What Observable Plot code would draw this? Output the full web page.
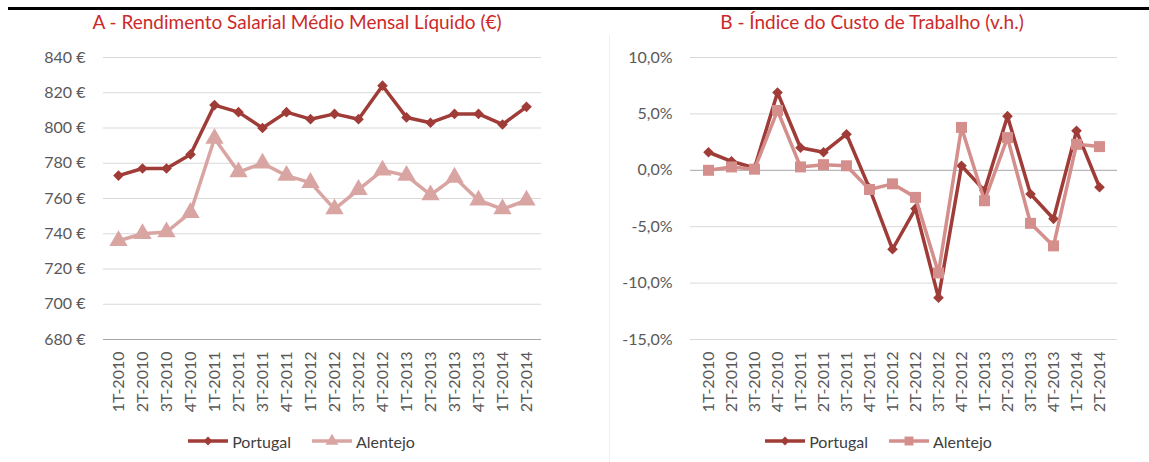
<!DOCTYPE html>
<html>
<head>
<meta charset="utf-8">
<script src="https://cdn.jsdelivr.net/npm/d3@7"></script>
<script src="https://cdn.jsdelivr.net/npm/@observablehq/plot@0.6"></script>
<style>
  body { margin: 0; background: #fff; font-family: Lato, "Open Sans", sans-serif; }
  #wrap { position: relative; width: 1149px; height: 462px; overflow: hidden; background: #fff; }
  .topline { position: absolute; left: 8px; top: 7px; width: 1141px; height: 3px; background: #000; }
  .divider { position: absolute; left: 609px; top: 35px; width: 1px; height: 427px; background: #efefef; }
  .title { position: absolute; top: 10px; color: #cc2a2a; font-size: 19px; text-align: center; line-height: 24px; }
  .panel { position: absolute; top: 40px; }
  .legend { position: absolute; top: 431px; height: 20px; display: flex; justify-content: center; align-items: center; gap: 20px; font-size: 16px; color: #404040; }
  .legend .item { display: flex; align-items: center; gap: 3px; }
  .legend svg { display: block; }
</style>
</head>
<body>
<div id="wrap">
  <div class="topline"></div>
  <div class="divider"></div>
  <div class="title" id="titleA" style="left:0;width:594px;"></div>
  <div class="title" id="titleB" style="left:609px;width:526px;"></div>
  <div class="panel" id="panelA" style="left:0;"></div>
  <div class="panel" id="panelB" style="left:609px;"></div>
  <div class="legend" id="legendA" style="left:0;width:602px;"></div>
  <div class="legend" id="legendB" style="left:609px;width:538px;"></div>
</div>
<script>
// ---------- data ----------
const quarters = ["1T-2010","2T-2010","3T-2010","4T-2010","1T-2011","2T-2011","3T-2011","4T-2011",
  "1T-2012","2T-2012","3T-2012","4T-2012","1T-2013","2T-2013","3T-2013","4T-2013","1T-2014","2T-2014"];

const seriesNames = ["Portugal", "Alentejo"];

// A - Rendimento Salarial Médio Mensal Líquido (€)
const salarioPortugal = [773, 777, 777, 785, 813, 809, 800, 809, 805, 808, 805, 824, 806, 803, 808, 808, 802, 812];
const salarioAlentejo = [736, 740, 741, 752, 794, 775, 780, 773, 769, 754, 765, 776, 773, 762, 772, 759, 754, 759];
const salarioTicks = [680, 700, 720, 740, 760, 780, 800, 820, 840];

// B - Índice do Custo de Trabalho (v.h., %)
const ictPortugal = [1.6, 0.8, 0.2, 6.9, 2.0, 1.6, 3.2, -1.6, -7.0, -3.4, -11.3, 0.4, -1.8, 4.8, -2.1, -4.3, 3.5, -1.5];
const ictAlentejo = [0.0, 0.3, 0.1, 5.3, 0.3, 0.5, 0.4, -1.7, -1.2, -2.4, -9.1, 3.8, -2.7, 2.9, -4.7, -6.7, 2.3, 2.1];
const ictTicks = [-15, -10, -5, 0, 5, 10];

const titleA = "A - Rendimento Salarial Médio Mensal Líquido (€)";
const titleB = "B - Índice do Custo de Trabalho (v.h.)";

// ---------- styles ----------
const cPortugal = "#a03c38";
const cAlentejoA = "#d9a5a3";
const cAlentejoB = "#d48e8c";
const gridColor = "#d9d9d9";
const axisColor = "#a6a6a6";
const textColor = "#595959";
const fs = 16;

const rows = (vals, name) => quarters.map((q, i) => ({q, v: vals[i], s: name}));

document.getElementById("titleA").textContent = titleA;
document.getElementById("titleB").textContent = titleB;

const common = {
  height: 380,
  marginTop: 17,
  marginBottom: 81,
  style: {fontFamily: "Lato, 'Open Sans', sans-serif", fontSize: fs + "px", color: textColor, background: "transparent", overflow: "visible"}
};

// ---------- Panel A ----------
const eur = d => `${d} €`;
const pA = Plot.plot({
  ...common,
  width: 609,
  marginLeft: 103,
  marginRight: 68,
  x: {type: "point", domain: quarters, padding: 0.5, axis: null},
  y: {domain: [680, 840], axis: null},
  marks: [
    Plot.ruleY(salarioTicks.filter(d => d !== 680), {stroke: gridColor, strokeWidth: 1}),
    Plot.ruleY([680], {stroke: axisColor, strokeWidth: 1}),
    Plot.axisY(salarioTicks, {label: null, tickSize: 0, tickPadding: 18, tickFormat: eur, fontSize: fs, fill: textColor}),
    Plot.axisX({label: null, tickSize: 0, tickPadding: 12, tickRotate: -90, fontSize: fs, fill: textColor}),
    Plot.line(rows(salarioPortugal, "Portugal"), {x: "q", y: "v", stroke: cPortugal, strokeWidth: 3.5}),
    Plot.dot(rows(salarioPortugal, "Portugal"), {x: "q", y: "v", symbol: "diamond2", r: 4.8, fill: cPortugal, stroke: "none"}),
    Plot.line(rows(salarioAlentejo, "Alentejo"), {x: "q", y: "v", stroke: cAlentejoA, strokeWidth: 3.5}),
    Plot.dot(rows(salarioAlentejo, "Alentejo"), {x: "q", y: "v", symbol: "triangle", r: 6.8, fill: cAlentejoA, stroke: "none"})
  ]
});
document.getElementById("panelA").append(pA);

// ---------- Panel B ----------
const pct = d => d.toFixed(1).replace(".", ",") + "%";
const pB = Plot.plot({
  ...common,
  width: 540,
  marginLeft: 81,
  marginRight: 32,
  x: {type: "point", domain: quarters, padding: 0.5, axis: null},
  y: {domain: [-15, 10], axis: null},
  marks: [
    Plot.ruleY(ictTicks.filter(d => d !== 0), {stroke: gridColor, strokeWidth: 1}),
    Plot.ruleY([0], {stroke: axisColor, strokeWidth: 1}),
    Plot.axisY(ictTicks, {label: null, tickSize: 0, tickPadding: 18, tickFormat: pct, fontSize: fs, fill: textColor}),
    Plot.axisX({label: null, tickSize: 0, tickPadding: 12, tickRotate: -90, fontSize: fs, fill: textColor}),
    Plot.line(rows(ictPortugal, "Portugal"), {x: "q", y: "v", stroke: cPortugal, strokeWidth: 3.5}),
    Plot.dot(rows(ictPortugal, "Portugal"), {x: "q", y: "v", symbol: "diamond2", r: 4.8, fill: cPortugal, stroke: "none"}),
    Plot.line(rows(ictAlentejo, "Alentejo"), {x: "q", y: "v", stroke: cAlentejoB, strokeWidth: 3.5}),
    Plot.dot(rows(ictAlentejo, "Alentejo"), {x: "q", y: "v", symbol: "square", r: 6.2, fill: cAlentejoB, stroke: "none"})
  ]
});
document.getElementById("panelB").append(pB);

// ---------- Legends ----------
function legend(id, items) {
  const el = document.getElementById(id);
  for (const it of items) {
    const item = document.createElement("div");
    item.className = "item";
    const sym = d3.symbol().type(it.type).size(it.size)();
    item.innerHTML = `<svg width="42" height="16"><line x1="1" x2="41" y1="8" y2="8" stroke="${it.color}" stroke-width="3.5"/><path transform="translate(21,8)" d="${sym}" fill="${it.color}"/></svg><span>${it.name}</span>`;
    el.append(item);
  }
}
legend("legendA", [
  {name: seriesNames[0], color: cPortugal, type: d3.symbolDiamond2, size: 50},
  {name: seriesNames[1], color: cAlentejoA, type: d3.symbolTriangle, size: 70}
]);
legend("legendB", [
  {name: seriesNames[0], color: cPortugal, type: d3.symbolDiamond2, size: 50},
  {name: seriesNames[1], color: cAlentejoB, type: d3.symbolSquare, size: 80}
]);
</script>
</body>
</html>
